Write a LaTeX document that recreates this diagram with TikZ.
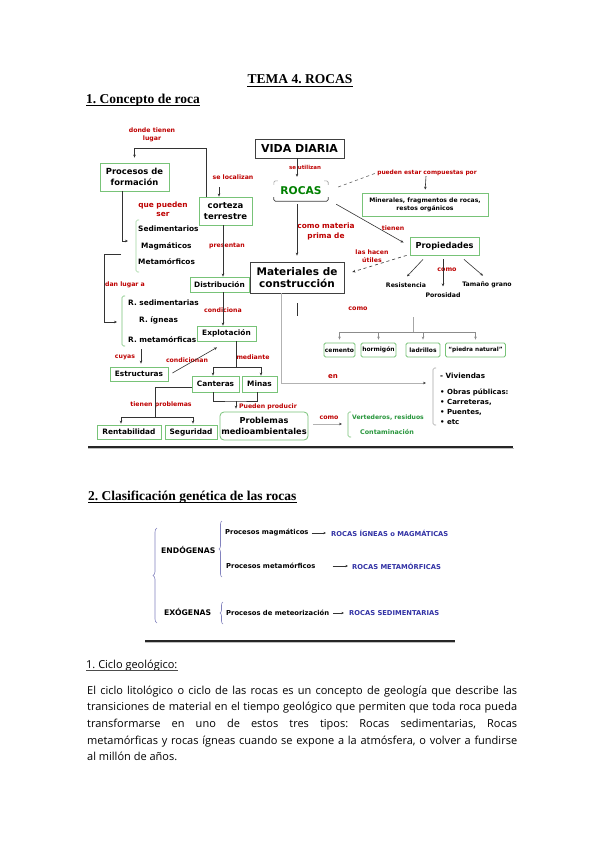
\documentclass[tikz,border=0pt]{standalone}
\usepackage{fontspec}
\setmainfont{Liberation Serif}
\newfontfamily\dvf{DejaVu Sans}
\newfontfamily\osf{Open Sans}
\usetikzlibrary{arrows.meta,decorations.pathreplacing}
\definecolor{lblred}{RGB}{190,0,0}
\definecolor{boxgreen}{RGB}{120,195,120}
\definecolor{txtgreen}{RGB}{0,128,0}
\definecolor{lgreen}{RGB}{40,150,60}
\definecolor{navyb}{RGB}{50,50,165}
\definecolor{bracecol}{RGB}{130,130,190}
\newcommand{\dfs}[2]{\dvf\bfseries\fontsize{#1}{#2}\selectfont}
\tikzset{
 lbl/.style={text=lblred, font=\dfs{6.2}{8}, align=center, inner sep=0pt},
 gbox/.style={draw=boxgreen, line width=0.8pt, inner sep=0pt, align=center, fill=white, font=\dfs{7.4}{9}},
 kbox/.style={draw=black!75, line width=0.8pt, inner sep=0pt, align=center, fill=white},
 txt/.style={inner sep=0pt, font=\dfs{7.4}{9}},
 arrowtip/.style={-{Stealth[length=3pt,width=2.6pt]}},
 arr/.style={draw=black!80, line width=0.6pt, arrowtip},
 ln/.style={draw=black!80, line width=0.6pt},
 garr/.style={draw=black!30, line width=0.6pt, -{Stealth[length=3pt,width=2.6pt,color=black!75]}},
 hd/.style={inner sep=0pt, font=\bfseries\fontsize{13.5}{16}\selectfont},
 body/.style={inner sep=0pt, font=\osf\fontsize{11}{16.7}\selectfont},
 sectxt/.style={inner sep=0pt, anchor=west, font=\dfs{6.8}{8}},
 bluetxt/.style={sectxt, text=navyb, font=\dfs{6.75}{8}},
 brk/.style={line width=0.6pt, rounded corners=1.5pt},
 bracestyle/.style={draw=bracecol, line width=0.6pt, decorate, decoration={brace, amplitude=#1}},
}
\begin{document}
\frenchspacing
\begin{tikzpicture}[x=1pt,y=-1pt]
\useasboundingbox (0,0) rectangle (599,848);
\fill[white] (0,0) rectangle (599,848);

% ---------- headings ----------
\node[hd, anchor=base] (title) at (300,84) {TEMA 4. ROCAS};
\draw[line width=0.6pt] ([yshift=-2pt]title.base west) -- ([yshift=-2pt]title.base east);
\node[hd, anchor=base west] (h1) at (86,103) {1. Concepto de roca};
\draw[line width=0.6pt] ([yshift=-2pt]h1.base west) -- ([yshift=-2pt]h1.base east);

% ---------- concept map: boxes ----------
\node[gbox, minimum width=69pt, minimum height=28pt, font=\dfs{8.4}{10.5}] (proc) at (134.5,177) {Procesos de\\formación};
\node[gbox, minimum width=53pt, minimum height=28pt, font=\dfs{8.5}{10.5}] (corteza) at (225.5,211) {corteza\\terrestre};
\node[kbox, minimum width=89pt, minimum height=19pt, font=\dfs{11}{13}] (vida) at (299.5,148.5) {VIDA DIARIA};
\node[inner sep=0pt, minimum width=54pt, minimum height=20pt, text=txtgreen, font=\dfs{10.7}{12}] (rocas) at (301,191) {ROCAS};
\draw[black!35, line width=0.6pt, rounded corners=1.5pt] ([yshift=-4pt]rocas.north west) -- (rocas.north west) -- ([xshift=4pt]rocas.north west);
\draw[black!35, line width=0.6pt, rounded corners=1.5pt] ([yshift=-4pt]rocas.north east) -- (rocas.north east) -- ([xshift=-4pt]rocas.north east);
\draw[black!75, line width=0.8pt, rounded corners=1.5pt] ([yshift=4pt]rocas.south west) -- (rocas.south west) -- (rocas.south east) -- ([yshift=4pt]rocas.south east);
\node[gbox, minimum width=126pt, minimum height=23pt, font=\dfs{6.1}{7.8}] (miner) at (425,204.5) {Minerales, fragmentos de rocas,\\restos orgánicos};
\node[gbox, minimum width=69pt, minimum height=18pt, font=\dfs{8.25}{10}] (prop) at (444.5,246) {Propiedades};
\node[kbox, minimum width=94pt, minimum height=31pt, font=\dfs{10.5}{12.8}] (mat) at (297,277.5) {Materiales de\\construcción};
\node[gbox, minimum width=59pt, minimum height=15pt] (dist) at (219.5,284.5) {Distribución};
\node[gbox, minimum width=59pt, minimum height=15pt] (explo) at (226.5,333.5) {Explotación};
\node[gbox, minimum width=58pt, minimum height=14pt] (estr) at (139,374) {Estructuras};
\node[gbox, minimum width=47pt, minimum height=16pt] (cant) at (215.5,384) {Canteras};
\node[gbox, minimum width=35pt, minimum height=16pt] (minas) at (259.5,384) {Minas};
\node[gbox, rounded corners=4pt, minimum width=88pt, minimum height=28pt, font=\dfs{8.2}{10.5}] (probl) at (264,426) {Problemas\\medioambientales};
\node[gbox, minimum width=64pt, minimum height=14pt] (rent) at (129,432) {Rentabilidad};
\node[gbox, minimum width=52pt, minimum height=14pt] (seg) at (191,432) {Seguridad};
\node[gbox, rounded corners=1.5pt, minimum width=31pt, minimum height=14pt, font=\dfs{6}{7}] (cem) at (339.5,350) {cemento};
\node[gbox, rounded corners=1.5pt, minimum width=35pt, minimum height=14pt, font=\dfs{6}{7}] (horm) at (378.5,350) {hormigón};
\node[gbox, rounded corners=1.5pt, minimum width=34pt, minimum height=14pt, font=\dfs{6}{7}] (ladr) at (423,350) {ladrillos};
\node[gbox, rounded corners=1.5pt, minimum width=60pt, minimum height=14pt, font=\dfs{5.8}{7}] (piedra) at (475.5,350) {“piedra natural”};

% ---------- plain texts ----------
\node[txt, anchor=west] (sed) at (138,229) {Sedimentarios};
\node[txt, anchor=west] (mag) at (141,246) {Magmáticos};
\node[txt, anchor=west] (met) at (138,262) {Metamórficos};
\node[txt, anchor=west] (rsed) at (128,303) {R. sedimentarias};
\node[txt, anchor=west] (rign) at (139,320) {R. ígneas};
\node[txt, anchor=west] (rmet) at (128,340) {R. metamórficas};
\node[txt, font=\dfs{6.2}{7}] (res) at (406,285) {Resistencia};
\node[txt, font=\dfs{6.2}{7}] (poro) at (443,295) {Porosidad};
\node[txt, font=\dfs{6.2}{7}] (tam) at (487,285) {Tamaño grano};
\node[txt, anchor=west, font=\dfs{7.2}{9}] (viv) at (440,376) {- Viviendas};
\node[txt, anchor=west, align=left, font=\dfs{7}{10}] (obras) at (440,407) {• Obras públicas:\\• Carreteras,\\• Puentes,\\• etc};
\node[txt, text=lgreen, font=\dfs{6.1}{7}] (vert) at (388,418) {Vertederos, residuos};
\node[txt, text=lgreen, font=\dfs{6.4}{7}] (contam) at (387,432) {Contaminación};

% ---------- labels ----------
\node[lbl, font=\dfs{6.2}{8}] (l1) at (152,135) {donde tienen\\lugar};
\node[lbl] (l2) at (233,177) {se localizan};
\node[lbl, font=\dfs{7.4}{9}] (l3) at (163,209.5) {que pueden\\ser};
\node[lbl] (l4) at (227,246) {presentan};
\node[lbl] (l5) at (125,285) {dan lugar a};
\node[lbl] (l6) at (223,310) {condiciona};
\node[lbl] (l7) at (125,357) {cuyas};
\node[lbl] (l8) at (187,360) {condicionan};
\node[lbl] (l9) at (253,357) {mediante};
\node[lbl] (l10) at (161,405) {tienen problemas};
\node[lbl] (l11) at (268,407) {Pueden producir};
\node[lbl, font=\dfs{5.5}{7}] (l12) at (305,167) {se utilizan};
\node[lbl, font=\dfs{5.9}{7}] (comp) at (427,173) {pueden estar compuestas por};
\node[lbl, font=\dfs{7.4}{10}] (l14) at (326,231) {como materia\\prima de};
\node[lbl] (l15) at (393,228) {tienen};
\node[lbl] (l16) at (372,256) {las hacen\\útiles};
\node[lbl, font=\dfs{6.4}{8}] (l17) at (447,270) {como};
\node[lbl, font=\dfs{6.4}{8}] (l18) at (358,309) {como};
\node[lbl, font=\dfs{7}{8}] (l19) at (333,377) {en};
\node[lbl, font=\dfs{6.3}{8}] (l20) at (329,418) {como};

% ---------- brackets ----------
\draw[brk, boxgreen!70] (139,220) -- (136,220) -- (136,272) -- (139,272);
\draw[brk, boxgreen] (125,296) -- (122,296) -- (122,346) -- (125,346);
\draw[brk, black!35] (436,368) -- (433,368) -- (433,425) -- (436,425);
\draw[brk, boxgreen] (351,412) -- (348,412) -- (348,437) -- (351,437);

% ---------- connectors ----------
\coordinate (sl) at (219,187);
\coordinate (pb) at (128,241);
\coordinate (dl) at (121,254);
\coordinate (dl2) at (117,322);
\coordinate (cy) at (141,349);
\coordinate (md) at (236,367);
\coordinate (pp) at (236,401);
\coordinate (tp) at (155,417);
\coordinate (cb) at (413,317);
\coordinate (cbh) at (413,332);
\coordinate (vv) at (426,383);
\coordinate (pc) at (342,424);

\draw[arr, shorten >=5pt] ([xshift=-19.5pt]corteza.north) |- ([yshift=14pt]proc.north) -- (proc.north);
\draw[arr] (sl) -- (sl |- corteza.north);
\draw[arr] ([xshift=-12.5pt]proc.south) |- (pb);
\draw[arr] ([xshift=-2.5pt]corteza.south) -- ([xshift=3.5pt]dist.north);
\draw[arr] ([xshift=3.5pt]dist.south) -- ([xshift=-3.5pt]explo.north);
\draw[arr] (dl) -| ([xshift=-13pt]dl2) -- (dl2);
\draw[arr, shorten >=3pt] (cy) -- ([xshift=2pt]estr.north);
\draw[arr] ([xshift=4pt,yshift=1pt]estr.east) -- ([xshift=-9.5pt,yshift=-6pt]explo.south);
\draw[ln] ([xshift=9.5pt]explo.south) -- (md);
\draw[arr] (md) -| ([xshift=-2.5pt]cant.north);
\draw[arr] (md) -| ([xshift=1.5pt]minas.north);
\draw[ln] ([xshift=-2.5pt]cant.south) |- (pp) -| ([xshift=-2.5pt]minas.south);
\draw[arr, shorten >=3pt] (pp) -- (pp |- probl.north);
\draw[ln] ([yshift=-3pt]cant.west) -| (tp);
\draw[arr, shorten >=1pt] (tp) -| ([xshift=-8pt]rent.north);
\draw[arr, shorten >=1pt] (tp) -| ([xshift=2pt]seg.north);

\draw[arr] ([xshift=-2.5pt]vida.south) -- ([xshift=-4pt,yshift=4pt]rocas.north);
\draw[black!60, line width=0.6pt, dashed] ([xshift=10pt,yshift=4pt]rocas.east) -- ([xshift=-1pt]comp.west);
\draw[arr, shorten >=3pt] ([xshift=-1pt]comp.south) -- (miner.north);
\draw[arr, shorten >=6pt] ([xshift=-4pt,yshift=-3pt]rocas.south) -- (mat.north);
\draw[arr, shorten >=7pt] ([xshift=8pt,yshift=-3pt]rocas.south east) -- (prop.west);
\draw[arr, dashed] ([xshift=-3pt]prop.south west) -- ([xshift=8pt,yshift=5.5pt]mat.east);
\draw[arr] ([xshift=-21.5pt,yshift=-4pt]prop.south) -- ([xshift=1pt,yshift=6pt]res.north);
\draw[arr] ([xshift=-1.5pt,yshift=-4pt]prop.south) -- ([yshift=6pt]poro.north);
\draw[arr] ([xshift=19.5pt,yshift=-4pt]prop.south) -- ([xshift=-4pt,yshift=6pt]tam.north);

\draw[ln] ([yshift=-10pt]mat.south) -- ([yshift=-23pt]mat.south);
\draw[garr] ([xshift=-16pt]mat.south) |- (vv);
\draw[black!35, line width=0.6pt] (cb) -- (cbh);
\draw[arr, draw=black!45, shorten >=3pt] (cbh) -| (cem.north);
\draw[arr, draw=black!45, shorten >=3pt] (cbh) -| (horm.north);
\draw[arr, draw=black!45, shorten >=3pt] (cbh) -| (ladr.north);
\draw[arr, draw=black!45, shorten >=3pt] (cbh) -| (piedra.north);
\draw[garr] ([xshift=5pt,yshift=2pt]probl.east) -- (pc);

% bottom rule of the map
\draw[black!25, line width=1.2pt] (88,448.6) -- (514,448.6);
\draw[black!85, line width=1.6pt] (88,447) -- (513,447);

% ---------- section 2 ----------
\node[hd, anchor=base west] (h2) at (88,500) {2. Clasificación genética de las rocas};
\draw[line width=0.6pt] ([yshift=-2pt]h2.base west) -- ([yshift=-2pt]h2.base east);

\node[sectxt, font=\dfs{7.7}{9}] (endo) at (161,550) {ENDÓGENAS};
\node[sectxt, font=\dfs{7.7}{9}] (exo) at (164,612) {EXÓGENAS};
\node[sectxt] (pmag) at (225,533) {Procesos magmáticos};
\node[sectxt] (pmet) at (226,566) {Procesos metamórficos};
\node[sectxt] (pmeteo) at (226,613) {Procesos de meteorización};
\node[bluetxt] (rig) at (331,533) {ROCAS ÍGNEAS o MAGMÁTICAS};
\node[bluetxt] (rmt) at (352,566) {ROCAS METAMÓRFICAS};
\node[bluetxt] (rsd) at (349,613) {ROCAS SEDIMENTARIAS};

\draw[bracestyle=4pt] (157,623) -- (157,528);
\draw[bracestyle=3pt] (222,577) -- (222,521);
\draw[bracestyle=3pt] (223,624) -- (223,602);

\draw[arr, -{Stealth[length=2.5pt,width=2.2pt]}] ([xshift=3pt]pmag.east) -- ([xshift=-5pt]rig.west);
\draw[arr, -{Stealth[length=2.5pt,width=2.2pt]}] ([xshift=17pt]pmet.east) -- ([xshift=-4pt]rmt.west);
\draw[arr, -{Stealth[length=2.5pt,width=2.2pt]}] ([xshift=4pt]pmeteo.east) -- ([xshift=-5pt]rsd.west);

\draw[black!25, line width=1pt] (145,642.3) -- (455,642.3);
\draw[black!85, line width=1.3pt] (145,641) -- (455,641);

% ---------- section text ----------
\node[body, anchor=base west] (h3) at (86,668) {1. Ciclo geológico:};
\draw[black!70, line width=0.5pt] ([yshift=-2pt]h3.base west) -- ([yshift=-2pt]h3.base east);
\node[body, anchor=base west, text width=430pt, align=justify] (par) at (87,694) {El ciclo litológico o ciclo de las rocas es un concepto de geología que describe las\linebreak transiciones de material en el tiempo geológico que permiten que toda roca pueda\linebreak transformarse en uno de estos tres tipos: Rocas sedimentarias, Rocas\linebreak metamórficas y rocas ígneas cuando se expone a la atmósfera, o volver a fundirse\linebreak al millón de años.};
\end{tikzpicture}
\end{document}
